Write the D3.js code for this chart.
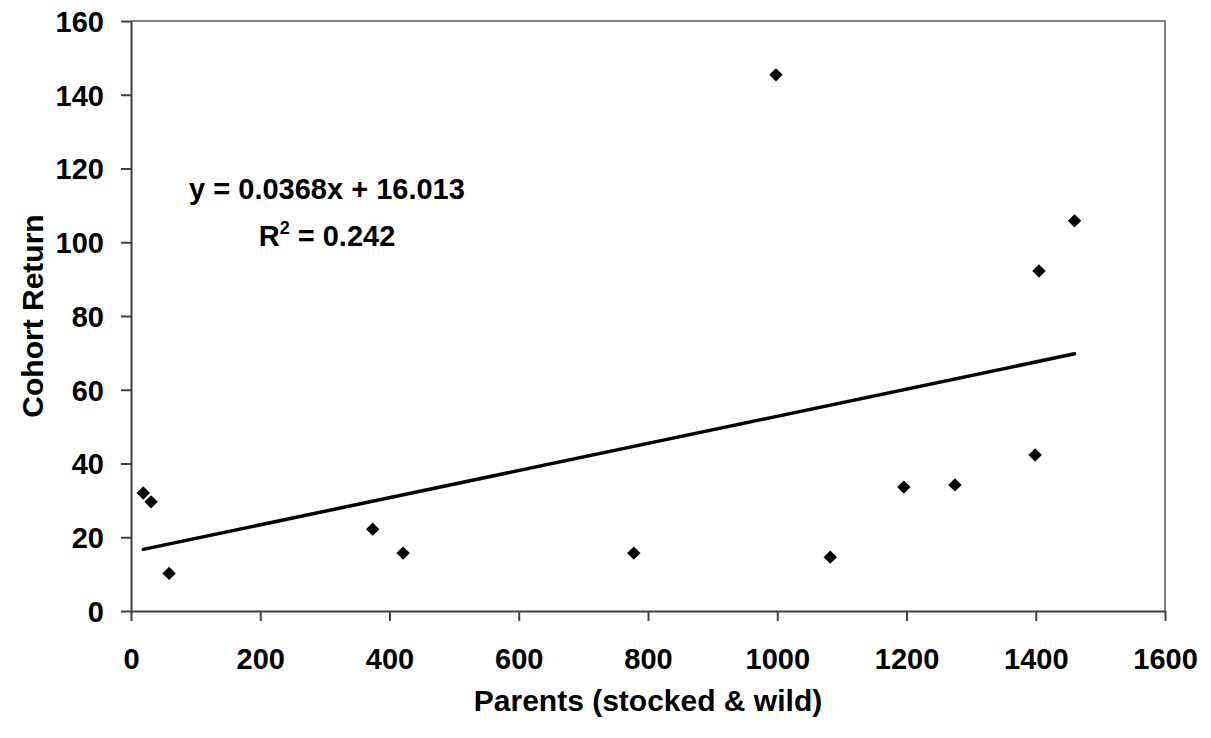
<!DOCTYPE html>
<html>
<head>
<meta charset="utf-8">
<script src="https://cdn.jsdelivr.net/npm/d3@7"></script>
<style>
  html, body { margin: 0; padding: 0; background: #fff; }
  svg text { font-family: "Liberation Sans", Arial, sans-serif; font-weight: bold; fill: #000; }
</style>
</head>
<body>
<svg id="chart" width="1211" height="738"></svg>
<script>
// Parents (stocked & wild) vs. cohort return
const parents = [19, 31, 59, 374, 421, 778, 998, 1082, 1196, 1275, 1399, 1405, 1460];
const cohortReturn = [32, 29.6, 10.2, 22.2, 15.7, 15.7, 145.4, 14.6, 33.6, 34.2, 42.3, 92.2, 105.8];

// Linear trend line
const slope = 0.0368;
const intercept = 16.013;
const rSquared = 0.242;

const xTicks = [0, 200, 400, 600, 800, 1000, 1200, 1400, 1600];
const yTicks = [0, 20, 40, 60, 80, 100, 120, 140, 160];

const svg = d3.select("#chart");
const plotLeft = 131, plotRight = 1165, plotTop = 21, plotBottom = 611;

const x = d3.scaleLinear().domain([0, 1600]).range([plotLeft, plotRight]);
const y = d3.scaleLinear().domain([0, 160]).range([plotBottom, plotTop]);

// Plot area frame (top and right edges)
svg.append("path")
  .attr("d", `M${plotLeft},${plotTop}H${plotRight}V${plotBottom}`)
  .attr("fill", "none")
  .attr("stroke", "#808080")
  .attr("stroke-width", 2);

// Axes
const xAxis = svg.append("g")
  .attr("transform", `translate(0,${plotBottom})`)
  .call(d3.axisBottom(x).tickValues(xTicks).tickFormat(d3.format("d"))
    .tickSize(10).tickPadding(27).tickSizeOuter(0));
const yAxis = svg.append("g")
  .attr("transform", `translate(${plotLeft},0)`)
  .call(d3.axisLeft(y).tickValues(yTicks).tickFormat(d3.format("d"))
    .tickSize(10).tickPadding(17).tickSizeOuter(0));

[xAxis, yAxis].forEach(g => {
  g.select(".domain").attr("stroke", "#404040").attr("stroke-width", 2);
  g.selectAll(".tick line").attr("stroke", "#404040").attr("stroke-width", 2);
  g.selectAll(".tick text")
    .style("font-family", '"Liberation Sans", Arial, sans-serif')
    .style("font-weight", "bold")
    .style("font-size", "29px")
    .attr("fill", "#000");
});
yAxis.selectAll(".tick text").attr("dy", "0.36em");

// Trend line across the range of the data
const xMin = d3.min(parents), xMax = d3.max(parents);
svg.append("line")
  .attr("x1", x(xMin)).attr("y1", y(slope * xMin + intercept))
  .attr("x2", x(xMax)).attr("y2", y(slope * xMax + intercept))
  .attr("stroke", "#000")
  .attr("stroke-width", 3.5)
  .attr("stroke-linecap", "round");

// Diamond markers
svg.append("g")
  .selectAll("path")
  .data(d3.zip(parents, cohortReturn))
  .join("path")
  .attr("d", d3.symbol(d3.symbolSquare, 90)())
  .attr("transform", d => `translate(${x(d[0])},${y(d[1])}) rotate(45)`)
  .attr("fill", "#000");

// Regression equation
const eq = svg.append("g").attr("font-size", "29px").attr("text-anchor", "middle");
eq.append("text")
  .attr("x", 327).attr("y", 199)
  .text(`y = ${slope}x + ${intercept}`);
const r2 = eq.append("text").attr("x", 327).attr("y", 246);
r2.append("tspan").text("R");
r2.append("tspan").attr("font-size", "18px").attr("dy", "-12").text("2");
r2.append("tspan").attr("dy", "12").text(` = ${rSquared}`);

// Axis titles
svg.append("text")
  .attr("x", (plotLeft + plotRight) / 2).attr("y", 711)
  .attr("text-anchor", "middle")
  .attr("font-size", "30px")
  .text("Parents (stocked & wild)");
svg.append("text")
  .attr("transform", `translate(43,${(plotTop + plotBottom) / 2}) rotate(-90)`)
  .attr("text-anchor", "middle")
  .attr("font-size", "30px")
  .text("Cohort Return");
</script>
</body>
</html>
